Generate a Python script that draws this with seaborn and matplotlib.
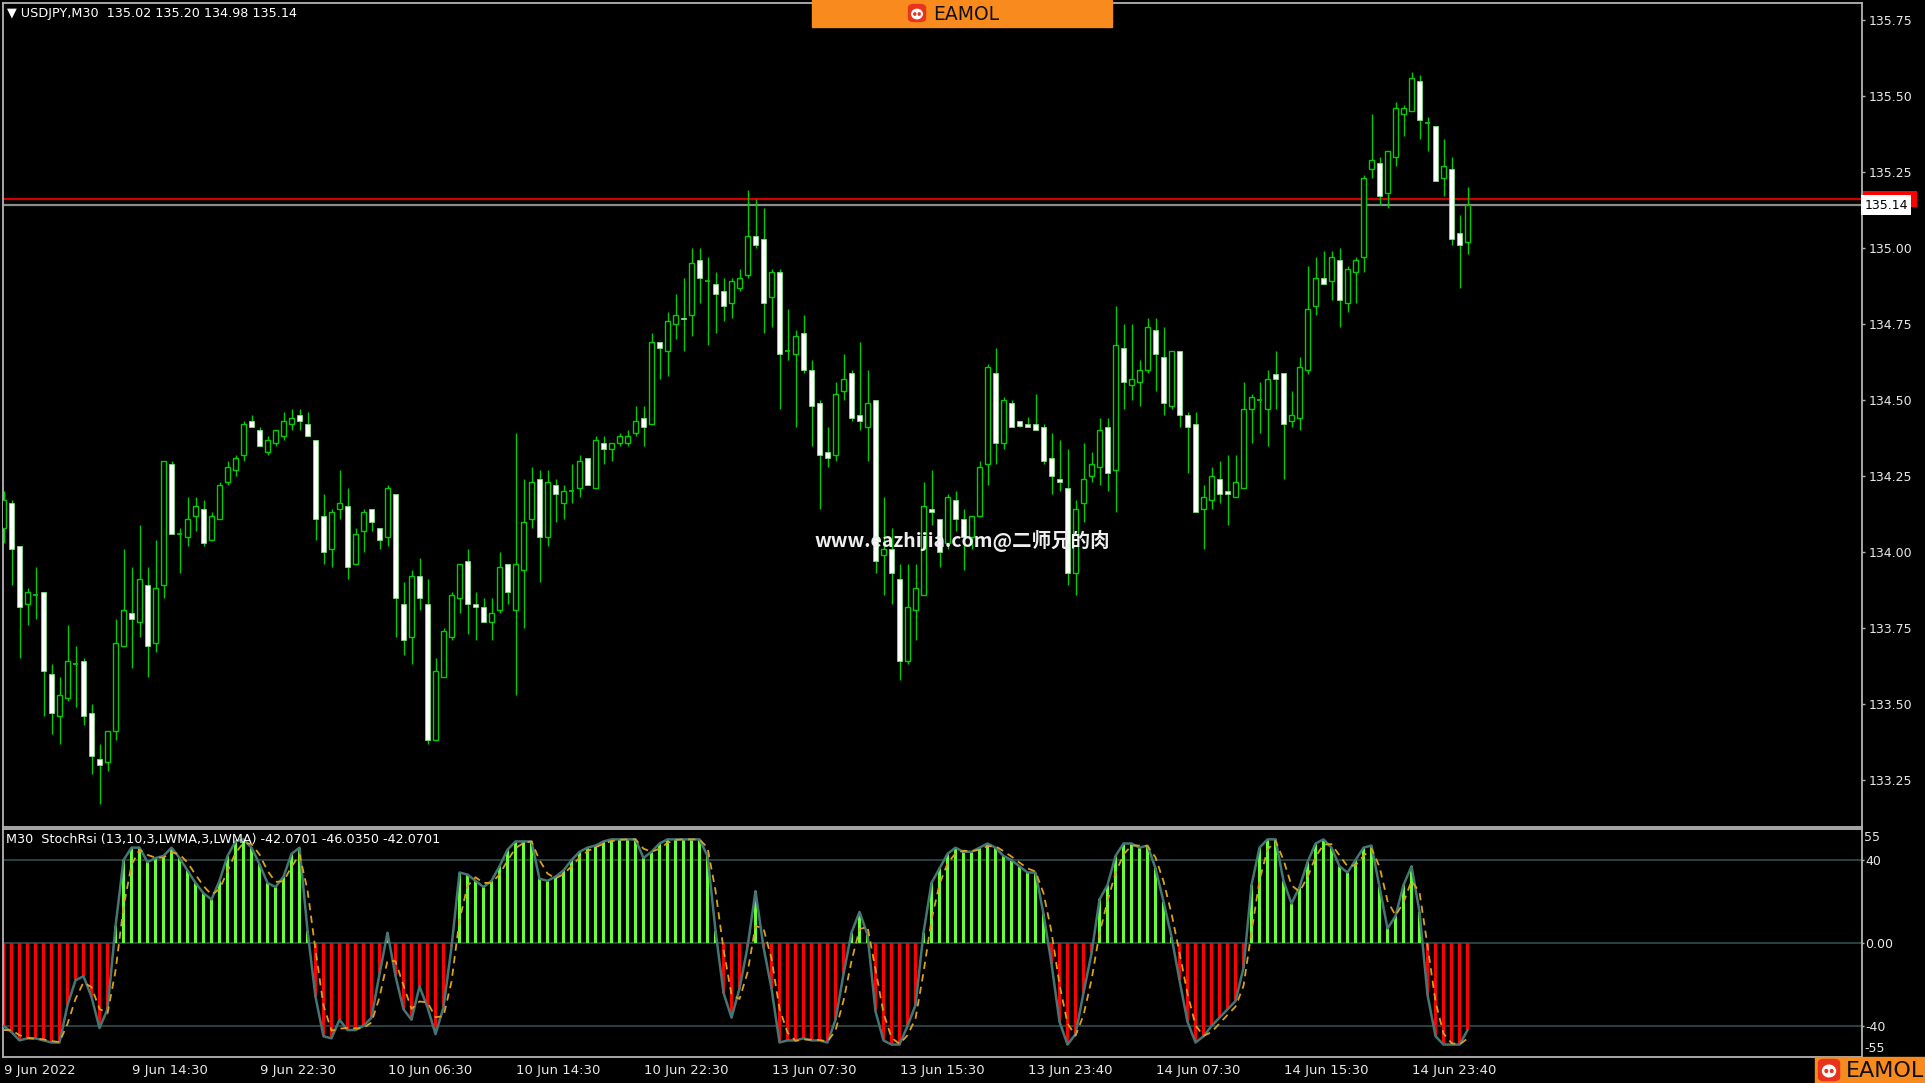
import matplotlib
matplotlib.use("Agg")
import matplotlib.pyplot as plt
import matplotlib.transforms as mtransforms
from matplotlib.patches import Rectangle, FancyBboxPatch, Ellipse
import numpy as np
import pandas as pd
import seaborn as sns

# ---------------------------------------------------------------------------
# Data (one entry per bar, oldest first)
# ---------------------------------------------------------------------------
opens = [
    134.08, 134.16, 134.02, 133.83, 133.86, 133.87, 133.60, 133.46, 133.52, 133.63,
    133.64, 133.47, 133.32, 133.31, 133.41, 133.69, 133.80, 133.77, 133.89, 133.70,
    133.89, 134.29, 134.06, 134.05, 134.12, 134.14, 134.04, 134.11, 134.23, 134.27,
    134.32, 134.43, 134.40, 134.33, 134.36, 134.38, 134.42, 134.45, 134.42, 134.37,
    134.12, 134.01, 134.14, 134.15, 133.96, 134.07, 134.14, 134.08, 134.05, 134.19,
    133.83, 133.72, 133.92, 133.83, 133.38, 133.59, 133.72, 133.85, 133.97, 133.83,
    133.82, 133.77, 133.81, 133.96, 133.81, 133.94, 134.11, 134.24, 134.05, 134.22,
    134.16, 134.20, 134.21, 134.31, 134.21, 134.36, 134.34, 134.36, 134.36, 134.39,
    134.44, 134.42, 134.69, 134.66, 134.75, 134.77, 134.78, 134.96, 134.89, 134.88,
    134.86, 134.82, 134.87, 134.91, 135.04, 135.03, 134.84, 134.92, 134.66, 134.65,
    134.72, 134.60, 134.49, 134.33, 134.32, 134.53, 134.59, 134.45, 134.41, 134.50,
    133.99, 134.01, 133.91, 133.64, 133.81, 133.86, 134.14, 134.11, 134.03, 134.17,
    134.11, 134.05, 134.12, 134.29, 134.59, 134.36, 134.49, 134.43, 134.42, 134.42,
    134.41, 134.31, 134.24, 134.21, 133.93, 134.16, 134.25, 134.28, 134.41, 134.27,
    134.67, 134.55, 134.56, 134.60, 134.73, 134.64, 134.48, 134.66, 134.45, 134.42,
    134.14, 134.17, 134.24, 134.20, 134.18, 134.21, 134.47, 134.50, 134.47, 134.585,
    134.59, 134.43, 134.44, 134.60, 134.81, 134.90, 134.89, 134.96, 134.82, 134.92,
    134.97, 135.26, 135.28, 135.18, 135.30, 135.44, 135.45, 135.55, 135.41, 135.40,
    135.23, 135.26, 135.05, 135.02,
]
highs = [
    134.20, 134.17, 134.02, 133.88, 133.95, 133.87, 133.63, 133.59, 133.76, 133.69,
    133.65, 133.50, 133.37, 133.41, 133.78, 134.01, 133.95, 134.09, 133.95, 134.04,
    134.30, 134.30, 134.08, 134.18, 134.18, 134.17, 134.13, 134.23, 134.30, 134.32,
    134.43, 134.45, 134.41, 134.38, 134.40, 134.46, 134.47, 134.47, 134.46, 134.37,
    134.19, 134.14, 134.27, 134.21, 134.08, 134.14, 134.14, 134.08, 134.22, 134.19,
    133.90, 133.94, 133.98, 133.91, 133.65, 133.75, 133.87, 133.96, 134.01, 133.87,
    133.85, 133.85, 134.00, 133.96, 134.39, 134.24, 134.28, 134.27, 134.27, 134.24,
    134.22, 134.29, 134.32, 134.31, 134.38, 134.38, 134.36, 134.39, 134.40, 134.48,
    134.48, 134.72, 134.69, 134.79, 134.85, 134.90, 135.00, 135.00, 134.97, 134.92,
    134.90, 134.90, 134.93, 135.19, 135.16, 135.13, 134.93, 134.93, 134.80, 134.73,
    134.78, 134.63, 134.50, 134.41, 134.56, 134.65, 134.60, 134.69, 134.60, 134.50,
    134.18, 134.08, 133.96, 133.96, 133.96, 134.23, 134.27, 134.11, 134.19, 134.20,
    134.14, 134.12, 134.30, 134.62, 134.67, 134.51, 134.50, 134.43, 134.445, 134.52,
    134.42, 134.39, 134.37, 134.34, 134.17, 134.36, 134.33, 134.44, 134.44, 134.81,
    134.75, 134.75, 134.63, 134.77, 134.77, 134.74, 134.66, 134.66, 134.46, 134.46,
    134.22, 134.28, 134.30, 134.32, 134.32, 134.56, 134.52, 134.56, 134.60, 134.66,
    134.59, 134.53, 134.64, 134.94, 134.97, 134.99, 134.99, 135.00, 134.94, 134.97,
    135.24, 135.44, 135.30, 135.32, 135.48, 135.47, 135.58, 135.57, 135.43, 135.40,
    135.36, 135.30, 135.11, 135.20,
]
lows = [
    134.03, 133.89, 133.65, 133.76, 133.78, 133.46, 133.40, 133.37, 133.51, 133.49,
    133.43, 133.27, 133.17, 133.28, 133.38, 133.69, 133.62, 133.72, 133.59, 133.67,
    133.85, 134.06, 133.93, 134.02, 134.07, 134.02, 134.04, 134.11, 134.22, 134.25,
    134.30, 134.41, 134.35, 134.32, 134.35, 134.37, 134.40, 134.40, 134.38, 134.04,
    133.96, 133.95, 134.11, 133.91, 133.96, 134.00, 134.07, 134.01, 134.02, 133.72,
    133.66, 133.63, 133.81, 133.37, 133.38, 133.59, 133.71, 133.80, 133.73, 133.71,
    133.77, 133.71, 133.80, 133.83, 133.53, 133.75, 134.08, 133.90, 134.02, 134.10,
    134.11, 134.16, 134.18, 134.22, 134.21, 134.29, 134.30, 134.35, 134.35, 134.38,
    134.35, 134.42, 134.57, 134.58, 134.70, 134.66, 134.71, 134.82, 134.68, 134.72,
    134.76, 134.77, 134.86, 134.90, 135.00, 134.72, 134.74, 134.47, 134.63, 134.41,
    134.59, 134.35, 134.14, 134.28, 134.30, 134.50, 134.43, 134.40, 134.30, 133.93,
    133.86, 133.83, 133.58, 133.63, 133.71, 133.86, 134.09, 133.95, 134.01, 134.07,
    133.94, 134.01, 134.12, 134.22, 134.29, 134.34, 134.41, 134.41, 134.41, 134.40,
    134.29, 134.19, 134.20, 133.89, 133.86, 134.10, 134.23, 134.22, 134.20, 134.13,
    134.47, 134.50, 134.48, 134.59, 134.53, 134.45, 134.47, 134.41, 134.26, 134.13,
    134.01, 134.14, 134.16, 134.09, 134.18, 134.21, 134.36, 134.39, 134.35, 134.47,
    134.24, 134.41, 134.40, 134.585, 134.78, 134.88, 134.83, 134.74, 134.79, 134.82,
    134.92, 135.23, 135.14, 135.13, 135.27, 135.37, 135.45, 135.36, 135.32, 135.22,
    135.17, 135.01, 134.87, 134.98,
]
closes = [
    134.17, 134.01, 133.82, 133.87, 133.86, 133.61, 133.47, 133.53, 133.64, 133.63,
    133.46, 133.33, 133.30, 133.41, 133.70, 133.81, 133.78, 133.91, 133.69, 133.88,
    134.30, 134.06, 134.06, 134.11, 134.15, 134.03, 134.12, 134.22, 134.28, 134.31,
    134.42, 134.41, 134.35, 134.37, 134.40, 134.43, 134.44, 134.43, 134.38, 134.11,
    134.00, 134.13, 134.16, 133.95, 134.06, 134.13, 134.10, 134.04, 134.21, 133.85,
    133.71, 133.92, 133.85, 133.38, 133.61, 133.74, 133.86, 133.96, 133.83, 133.82,
    133.77, 133.80, 133.95, 133.87, 133.96, 134.10, 134.23, 134.05, 134.23, 134.19,
    134.20, 134.20, 134.30, 134.22, 134.37, 134.34, 134.36, 134.38, 134.38, 134.43,
    134.41, 134.69, 134.67, 134.76, 134.78, 134.765, 134.95, 134.90, 134.89, 134.85,
    134.81, 134.89, 134.90, 135.04, 135.01, 134.82, 134.92, 134.65, 134.66, 134.71,
    134.60, 134.48, 134.32, 134.31, 134.52, 134.57, 134.44, 134.43, 134.49, 133.97,
    134.01, 133.93, 133.64, 133.82, 133.88, 134.15, 134.13, 134.00, 134.18, 134.11,
    134.05, 134.12, 134.28, 134.61, 134.36, 134.50, 134.41, 134.415, 134.41, 134.40,
    134.30, 134.25, 134.23, 133.93, 134.14, 134.24, 134.29, 134.40, 134.26, 134.68,
    134.56, 134.57, 134.60, 134.74, 134.65, 134.49, 134.66, 134.45, 134.41, 134.13,
    134.18, 134.25, 134.19, 134.19, 134.23, 134.47, 134.51, 134.50, 134.57, 134.57,
    134.42, 134.45, 134.61, 134.80, 134.90, 134.88, 134.97, 134.83, 134.93, 134.96,
    135.23, 135.29, 135.17, 135.32, 135.46, 135.46, 135.56, 135.42, 135.41, 135.22,
    135.27, 135.03, 135.01, 135.14,
]

# StochRsi(13,10,3,LWMA,3,LWMA) main line and dashed signal line
stoch_main = [
    -40, -43, -47, -46, -46, -47, -48, -48, -30, -18,
    -16, -26, -41, -32, 8, 40, 46, 46, 39, 41,
    42, 46, 41, 35, 29, 24, 21, 30, 42, 49,
    50, 46, 38, 29, 27, 32, 43, 46, 6, -26,
    -45, -46, -37, -42, -42, -40, -36, -15, 5, -16,
    -32, -37, -21, -31, -44, -31, -2, 34, 33, 30,
    27, 30, 37, 45, 49, 49, 49, 31, 30, 32,
    35, 40, 44, 46, 47, 49, 50, 50, 50, 50,
    41, 44, 48, 50, 50, 50, 50, 50, 42, 6,
    -24, -36, -22, -2, 25, -2, -22, -48, -47, -47,
    -46, -47, -47, -48, -37, -15, 5, 15, 4, -33,
    -47, -49, -49, -40, -30, 5, 29, 36, 43, 46,
    44, 44, 46, 48, 46, 42, 40, 37, 34, 34,
    14, -10, -38, -49, -44, -24, -5, 21, 28, 42,
    48, 48, 46, 47, 36, 20, 3, -18, -38, -48,
    -45, -40, -36, -32, -28, -12, 28, 46, 50, 50,
    30, 19, 27, 39, 48, 50, 46, 37, 34, 40,
    46, 47, 27, 7, 13, 28, 37, 15, -25, -45,
    -49, -49, -49, -42.07,
]
stoch_signal = [
    -42, -42, -44.5, -45.8, -46.2, -46.5, -47.3, -47.8, -39, -27,
    -19, -21.3, -31.8, -34, -13.5, 17.3, 37.7, 45, 42.5, 41.2,
    41.2, 43.8, 42.8, 38.8, 33, 27.5, 23.3, 26, 34.5, 43.5,
    48.3, 47.8, 42.7, 34.8, 29.5, 29.8, 36.7, 42.7, 25.5, -3.3,
    -30.2, -42.3, -41.3, -41, -41.2, -41, -38.3, -26.2, -8.5, -8.8,
    -20.5, -31.8, -28.2, -28.7, -35.8, -35.3, -18.7, 11.2, 27.5, 31.7,
    29, 29, 33, 39.8, 45.7, 48.3, 49, 40, 33.5, 31.2,
    33.2, 37, 41.2, 44.3, 46.2, 47.8, 49.2, 49.8, 50, 50,
    45.5, 44, 45.5, 48.3, 49.7, 50, 50, 50, 46, 25.3,
    -3, -25, -27, -14.3, 8.2, 7, -7.5, -31.7, -43.2, -47.2,
    -46.5, -46.7, -46.8, -47.5, -42.3, -27.8, -8.7, 6.7, 7.8, -12.7,
    -33.8, -45.7, -48.7, -44.5, -36.5, -14.2, 11.2, 28.5, 38.3, 43.3,
    44.5, 44.3, 45, 46.7, 46.7, 44.3, 41.7, 38.8, 36, 34.5,
    24, 5.3, -20, -38.8, -44.7, -34.8, -17.8, 4.8, 20.2, 33.8,
    42.7, 47, 47, 46.8, 41.3, 29.8, 14.2, -4.7, -24.5, -39.7,
    -44.8, -43, -38.8, -34.7, -30.7, -20.7, 5.3, 30.3, 45, 49.3,
    40, 27.8, 24.8, 31.7, 41.5, 47.5, 47.7, 42.2, 37, 37.5,
    42, 45.5, 36.8, 20.3, 13.3, 19.5, 30, 24.5, -1.3, -28.3,
    -43.7, -48.3, -49, -46.04,
]

bid_price = 135.14
ask_price = 135.16
price_ticks = [133.25, 133.50, 133.75, 134.00, 134.25, 134.50, 134.75, 135.00, 135.25, 135.50, 135.75]
stoch_levels = [40, 0, -40]
date_tick_bars = [0, 16, 32, 48, 64, 80, 96, 112, 128, 144, 160, 176]
date_labels = ["9 Jun 2022", "9 Jun 14:30", "9 Jun 22:30", "10 Jun 06:30",
               "10 Jun 14:30", "10 Jun 22:30", "13 Jun 07:30", "13 Jun 15:30",
               "13 Jun 23:40", "14 Jun 07:30", "14 Jun 15:30", "14 Jun 23:40"]

# ---------------------------------------------------------------------------
# Style
# ---------------------------------------------------------------------------
W, H = 1925, 1083
CANDLE_GREEN = "#00CC00"
FRAME = "#B4B4B4"
TEXT = "#E8E8E8"
HIST_UP = "#66FF33"
HIST_DOWN = "#FF0000"
LEVEL = "#2C4848"
ORANGE = "#F98A1E"

sns.set_theme(style="dark", rc={
    "figure.facecolor": "black",
    "axes.facecolor": "black",
    "axes.edgecolor": FRAME,
    "axes.grid": False,
    "text.color": TEXT,
    "xtick.color": FRAME,
    "ytick.color": FRAME,
})
plt.rcParams["font.family"] = ["DejaVu Sans"]

fig = plt.figure(figsize=(W / 100, H / 100), dpi=100, facecolor="black")


def px_axes(x0, y0, x1, y1):
    return fig.add_axes([x0 / W, 1 - y1 / H, (x1 - x0) / W, (y1 - y0) / H])


ax = px_axes(3, 3, 1862, 827)
ax2 = px_axes(3, 829, 1862, 1057)
xlim = (-0.0625, 232.31)

# ---------------------------------------------------------------------------
# Candles
# ---------------------------------------------------------------------------
o = np.array(opens)
h = np.array(highs)
l = np.array(lows)
c = np.array(closes)
bars = np.arange(len(o))
up = c > o
down = c < o
flat = c == o
body_lo = np.minimum(o, c)
body_h = np.abs(c - o)

ax.vlines(bars, l, h, color=CANDLE_GREEN, lw=1.0, zorder=2)
ax.bar(bars[up], body_h[up], bottom=body_lo[up], width=0.62,
       facecolor="black", edgecolor=CANDLE_GREEN, linewidth=1.0, zorder=3)
ax.bar(bars[down], body_h[down], bottom=body_lo[down], width=0.62,
       facecolor="white", edgecolor="#7CE07C", linewidth=0.6, zorder=3)
ax.hlines(o[flat], bars[flat] - 0.31, bars[flat] + 0.31, color=CANDLE_GREEN, lw=1.3, zorder=3)

ax.axhline(ask_price, color="#D00000", lw=1.6, zorder=1)
ax.axhline(bid_price, color="#8C8C8C", lw=1.6, zorder=1)

ax.set_xlim(*xlim)
ax.set_ylim(133.0954, 135.806)
ax.set_xticks([])
ax.yaxis.tick_right()
ax.set_yticks(price_ticks)
ax.set_yticklabels([f"{p:.2f}" for p in price_ticks])
ax.tick_params(axis="y", labelsize=9, labelcolor=TEXT, color=FRAME,
               length=2.5, width=1, pad=2, direction="out")
for sp in ax.spines.values():
    sp.set_color(FRAME)
    sp.set_linewidth(1.3)
ax.set_ylabel("")

# ask marker (red strip mostly hidden) and bid label on the price scale
trans = mtransforms.blended_transform_factory(ax.transAxes, ax.transData)
ax.add_patch(Rectangle((1.0005, ask_price - 0.026), 0.0292, 0.052, transform=trans,
                       facecolor="#FF0000", edgecolor="none", clip_on=False, zorder=5))
ax.text(1.0012, bid_price, f"{bid_price:.2f}", transform=trans, ha="left", va="center",
        fontsize=9, color="black", clip_on=False, zorder=6,
        bbox=dict(boxstyle="square,pad=0.28", fc="white", ec="none"))

# ---------------------------------------------------------------------------
# StochRsi panel
# ---------------------------------------------------------------------------
df = pd.DataFrame({"bar": bars, "main": stoch_main, "signal": stoch_signal})
df["side"] = np.where(df["main"] >= 0, "up", "down")

for lv in stoch_levels:
    ax2.axhline(lv, color=LEVEL, lw=1.3, zorder=1)

sns.barplot(data=df, x="bar", y="main", hue="side",
            palette={"up": HIST_UP, "down": HIST_DOWN}, native_scale=True,
            dodge=False, width=0.32, errorbar=None, legend=False,
            saturation=1, linewidth=0, ax=ax2, zorder=2)
sns.lineplot(data=df, x="bar", y="main", color="#457575", lw=1.8, ax=ax2, zorder=3)
sns.lineplot(data=df, x="bar", y="signal", color="#D9A21B", lw=1.3,
             linestyle=(0, (4, 3)), ax=ax2, zorder=4)

ax2.set_xlim(*xlim)
ax2.set_ylim(-55, 55)
ax2.set_xlabel("")
ax2.set_ylabel("")
ax2.yaxis.tick_right()
ax2.set_yticks(stoch_levels)
ax2.set_yticklabels(["40", "0.00", "-40"])
ax2.tick_params(axis="y", labelsize=9, labelcolor=TEXT, color=FRAME,
                length=1.5, width=1, pad=0.8, direction="out")
ax2.set_xticks(date_tick_bars)
ax2.set_xticklabels(date_labels, ha="left")
ax2.tick_params(axis="x", labelsize=9.5, labelcolor=TEXT, color=FRAME,
                length=3.5, width=1, pad=1.5, direction="out")
for sp in ax2.spines.values():
    sp.set_color(FRAME)
    sp.set_linewidth(1.3)

ytrans2 = mtransforms.blended_transform_factory(ax2.transAxes, ax2.transData)
ax2.text(1.0012, 54, "55", transform=ytrans2, ha="left", va="top", fontsize=9,
         color=TEXT, clip_on=False)
ax2.text(1.0012, -54, "-55", transform=ytrans2, ha="left", va="bottom", fontsize=9,
         color=TEXT, clip_on=False)

# ---------------------------------------------------------------------------
# Header texts, watermark, logo banners
# ---------------------------------------------------------------------------
fig.text(7 / W, 1 - 13 / H, "\u25BC USDJPY,M30  135.02 135.20 134.98 135.14",
         fontsize=9.2, color="white", va="center", ha="left")
fig.text(6 / W, 1 - 839 / H,
         "M30  StochRsi (13,10,3,LWMA,3,LWMA) -42.0701 -46.0350 -42.0701",
         fontsize=9.2, color="white", va="center", ha="left", zorder=6)
fig.text(962 / W, 1 - 541 / H, "www.eazhijia.com@二师兄的肉",
         fontsize=14, fontweight="bold", color="#EEEEEE", ha="center", va="center",
         family=["Noto Sans CJK SC", "DejaVu Sans"], zorder=8)


def banner(x0, y0, x1, y1, icon_cx, icon_cy, icon_size, text_x, fsize):
    fig.add_artist(Rectangle((x0 / W, 1 - y1 / H), (x1 - x0) / W, (y1 - y0) / H,
                             transform=fig.transFigure, color=ORANGE, zorder=9))
    s = icon_size
    fig.add_artist(FancyBboxPatch(((icon_cx - s / 2) / W, 1 - (icon_cy + s / 2) / H),
                                  s / W, s / H, boxstyle="round,pad=0,rounding_size=0.003",
                                  transform=fig.transFigure, color="#E8341C", zorder=10))
    fig.add_artist(Ellipse((icon_cx / W, 1 - (icon_cy + 1) / H), 0.62 * s / W, 0.55 * s / H,
                           transform=fig.transFigure, color="white", zorder=11))
    for dx in (-0.13, 0.13):
        fig.add_artist(Ellipse(((icon_cx + dx * s) / W, 1 - (icon_cy + 1) / H),
                               0.12 * s / W, 0.14 * s / H,
                               transform=fig.transFigure, color="#E8341C", zorder=12))
    fig.text(text_x / W, 1 - (icon_cy + 1) / H, "EAMOL", fontsize=fsize, color="#111111",
             fontweight="medium", ha="left", va="center", zorder=13)


banner(812, 0, 1112, 27, 917, 13, 17, 933, 13.5)
banner(1815, 1057, 1925, 1083, 1829, 1070, 21, 1846, 16)

fig.savefig("out.png", dpi=100, facecolor="black")
